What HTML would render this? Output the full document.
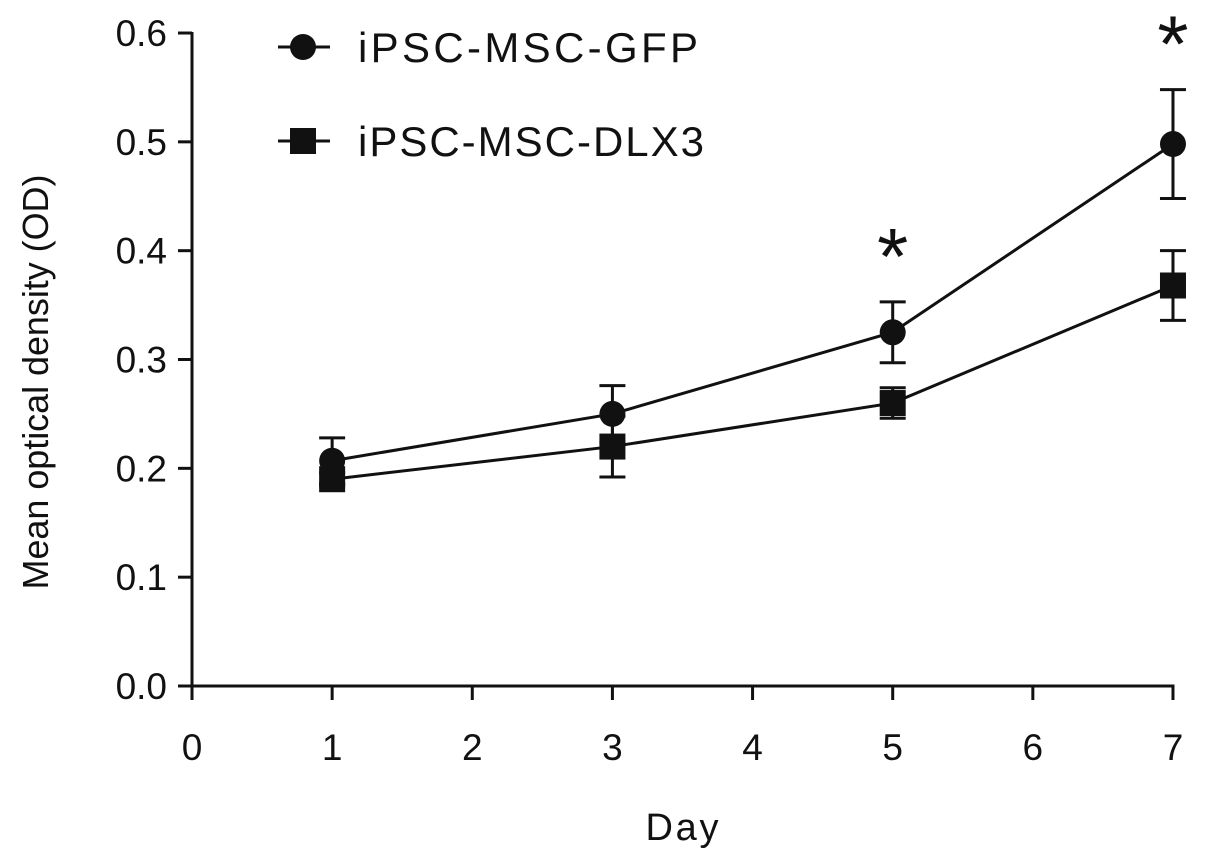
<!DOCTYPE html>
<html><head><meta charset="utf-8"><style>
body{margin:0;background:#fff}
svg text{font-family:"Liberation Sans",sans-serif;fill:#111}
</style></head><body>
<svg id="chart" width="1205" height="863" viewBox="0 0 1205 863">
<g id="axes"></g><g id="series"></g>
<text x="0" y="0" transform="translate(48,382) rotate(-90)" text-anchor="middle" font-size="36" textLength="415">Mean optical density (OD)</text>
<text x="682" y="840" text-anchor="middle" font-size="38" textLength="73">Day</text>
<g>
<g>
<line x1="278" y1="47" x2="330" y2="47" stroke="#111" stroke-width="3"/>
<circle cx="303" cy="47" r="13" fill="#111"/>
<text x="358" y="62" font-size="42" textLength="340">iPSC-MSC-GFP</text></g>
<g>
<line x1="278" y1="141" x2="330" y2="141" stroke="#111" stroke-width="3"/>
<rect x="290" y="128" width="26" height="26" fill="#111"/>
<text x="358" y="156" font-size="42" textLength="346">iPSC-MSC-DLX3</text></g>
</g>
</svg>
<script>
const xTicks=[0,1,2,3,4,5,6,7];
const yTicks=[0.0,0.1,0.2,0.3,0.4,0.5,0.6];
const days=[1,3,5,7];
const gfpMean=[0.207,0.25,0.325,0.498];
const gfpErr=[0.021,0.026,0.028,0.05];
const dlxMean=[0.19,0.22,0.26,0.368];
const dlxErr=[0.006,0.028,0.014,0.032];
const sigDays=[5,7];
const sigValues=[0.353,0.548];

const NS="http://www.w3.org/2000/svg";
const X=d=>192+d*140.14;
const Y=v=>686-v*1088.3;
function mk(tag,attrs,parent){const e=document.createElementNS(NS,tag);for(const k in attrs)e.setAttribute(k,attrs[k]);parent.appendChild(e);return e;}
const axes=document.getElementById('axes'),series=document.getElementById('series');
let a=mk('line',{x1:192,y1:Y(0.6)-1,x2:192,y2:687.5,stroke:'#111','stroke-width':3},axes);


a=mk('line',{x1:190.5,y1:686,x2:X(7)+1.5,y2:686,stroke:'#111','stroke-width':3},axes);


yTicks.forEach(v=>{
 const t=mk('line',{x1:178,y1:Y(v),x2:192,y2:Y(v),stroke:'#111','stroke-width':3},axes);
 
 
 const l=mk('text',{x:167,y:Y(v)+13,'text-anchor':'end','font-size':37},axes);l.textContent=v.toFixed(1);
 
 
});
xTicks.forEach(d=>{
 const t=mk('line',{x1:X(d),y1:686,x2:X(d),y2:700,stroke:'#111','stroke-width':3},axes);
 
 
 const l=mk('text',{x:X(d),y:760,'text-anchor':'middle','font-size':37},axes);l.textContent=d;
 
 
});
function drawSeries(means,errs,shape,name){
 const g=mk('g',{},series);
 
 
 const p=mk('polyline',{points:days.map((d,i)=>X(d)+','+Y(means[i])).join(' '),fill:'none',stroke:'#111','stroke-width':3},g);
 
 
 days.forEach((d,i)=>{
  const x=X(d),hi=Y(means[i]+errs[i]),lo=Y(means[i]-errs[i]);
  const e=mk('path',{d:`M${x},${hi}V${lo}M${x-13},${hi}H${x+13}M${x-13},${lo}H${x+13}`,stroke:'#111','stroke-width':3,fill:'none'},g);
  
  
  let m;
  if(shape==='circle')m=mk('circle',{cx:x,cy:Y(means[i]),r:13,fill:'#111'},g);
  else m=mk('rect',{x:x-13,y:Y(means[i])-13,width:26,height:26,fill:'#111'},g);
  
  
 });
}
drawSeries(dlxMean,dlxErr,'square','series-dlx3');
drawSeries(gfpMean,gfpErr,'circle','series-gfp');
sigDays.forEach((d,i)=>{
 const s=mk('text',{x:X(d),y:Y(sigValues[i])-18,'text-anchor':'middle','font-size':80},series);
 s.textContent='*';
 
 
});
</script>
</body></html>
